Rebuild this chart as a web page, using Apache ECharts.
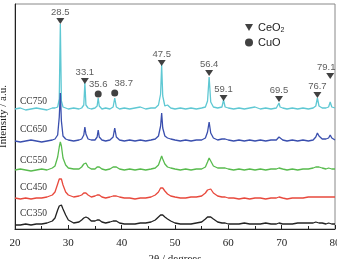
<!DOCTYPE html>
<html>
<head>
<meta charset="utf-8">
<script src="https://cdn.jsdelivr.net/npm/echarts@6/dist/echarts.min.js"></script>
<style>
  html, body { margin: 0; padding: 0; background: #fff; }
  #chart { width: 337px; height: 259px; }
</style>
</head>
<body>
<div id="chart"></div>
<script>
// 2θ grid shared by all patterns (denser around the reflections)
const twoTheta = [
  20, 21, 22, 23, 24, 25, 26, 27, 27.5, 28, 28.3, 28.5, 28.7, 29, 29.5, 30,
  31, 32, 32.5, 32.9, 33.1, 33.3, 33.7, 34.3, 35, 35.4, 35.6, 35.8, 36.3, 37,
  37.8, 38.4, 38.7, 39, 39.6, 40.5, 41.5, 42.5, 43.5, 44.5, 45.5, 46.3, 46.9,
  47.3, 47.5, 47.7, 48.1, 48.6, 49.2, 50, 51, 52, 53, 54, 55, 55.7, 56.1, 56.4,
  56.7, 57.2, 58, 58.8, 59.1, 59.4, 60, 61, 62, 63, 64, 65, 66, 67, 68, 69,
  69.3, 69.5, 69.7, 70.2, 71, 72, 73, 74, 75, 75.9, 76.4, 76.7, 77, 77.6, 78.3,
  78.8, 79.1, 79.4, 80
]

// intensities (a.u., offset traces)
const cc750 = [
  120, 121, 119, 120, 121, 120, 119, 121, 121, 122, 130, 205, 128, 122, 121, 120,
  121, 120, 121, 124, 146, 124, 121, 120, 121, 123, 131, 123, 120, 121,
  120, 122, 131, 122, 120, 121, 120, 121, 122, 120, 121, 121, 124,
  135, 164, 133, 123, 124, 121, 120, 121, 120, 121, 120, 121, 122, 128, 152,
  127, 122, 121, 122, 129, 122, 121, 120, 121, 120, 121, 122, 120, 121, 120, 121,
  122, 126, 122, 121, 120, 121, 120, 121, 120, 121, 123, 131, 123, 121, 121,
  122, 127, 122, 121
]
const cc650 = [
  88, 87, 88, 89, 88, 87, 88, 89, 90, 94, 112, 136, 108, 93, 90, 89,
  88, 89, 90, 94, 102, 95, 90, 89, 89, 92, 99, 92, 89, 88,
  89, 92, 101, 92, 89, 88, 89, 88, 89, 88, 89, 90, 93,
  103, 116, 101, 93, 91, 90, 89, 88, 89, 88, 89, 89, 91, 97, 107,
  96, 91, 89, 90, 92, 90, 89, 88, 89, 88, 89, 88, 89, 88, 89, 89,
  90, 92, 90, 89, 88, 89, 88, 89, 88, 89, 92, 96, 93, 90, 90,
  91, 94, 91, 89
]
const cc550 = [
  59, 60, 59, 58, 59, 60, 59, 61, 63, 72, 82, 87, 83, 71, 64, 61,
  60, 60, 62, 65, 67, 66, 62, 60, 60, 62, 64, 62, 60, 59,
  60, 62, 63, 62, 60, 59, 60, 59, 60, 59, 60, 61, 64,
  70, 73, 70, 65, 62, 61, 60, 59, 60, 59, 60, 60, 62, 67, 71,
  68, 63, 61, 61, 61, 61, 60, 59, 60, 59, 60, 59, 60, 59, 60, 60,
  61, 61, 61, 60, 59, 60, 59, 60, 60, 61, 62, 62, 62, 61, 60,
  61, 61, 60, 60
]
const cc450 = [
  31, 30, 31, 30, 31, 31, 32, 34, 37, 45, 50, 52, 50, 44, 37, 34,
  32, 33, 34, 36, 36, 36, 34, 32, 33, 34, 36, 34, 32, 31,
  32, 33, 33, 33, 32, 31, 31, 30, 31, 31, 32, 34, 37,
  41, 42, 41, 38, 35, 33, 32, 31, 31, 32, 32, 33, 36, 39, 41,
  40, 36, 33, 32, 32, 32, 31, 31, 30, 31, 30, 31, 31, 30, 31, 31,
  31, 32, 31, 31, 30, 31, 31, 31, 32, 32, 32, 33, 32, 32, 32,
  32, 32, 32, 32
]
const cc350 = [
  4, 4, 5, 4, 5, 5, 6, 8, 11, 19, 23, 25, 24, 20, 14, 9,
  6, 7, 9, 11, 12, 12, 11, 8, 8, 9, 10, 9, 7, 6,
  7, 8, 8, 8, 6, 5, 5, 5, 6, 6, 7, 9, 12,
  14, 14, 14, 12, 10, 8, 6, 5, 5, 5, 6, 7, 10, 12, 12,
  12, 10, 7, 6, 6, 6, 5, 5, 5, 6, 5, 5, 5, 6, 5, 5,
  6, 6, 5, 5, 5, 5, 6, 6, 6, 6, 7, 7, 6, 6, 5,
  6, 6, 5, 5
]

const sampleNames = ['CC750', 'CC650', 'CC550', 'CC450', 'CC350']
const sampleColors = ['#5fc8d3', '#3a4fae', '#58bb4e', '#e8493d', '#222222']
const sampleData = [cc750, cc650, cc550, cc450, cc350]
const sampleLabelTop = [96, 124, 155, 182, 208]

// reflection markers
const ceo2Peaks = [28.5, 33.1, 47.5, 56.4, 59.1, 69.5, 76.7, 79.1]
const ceo2MarkY = [208, 148, 166, 156, 131, 130, 134, 153]
const cuoPeaks = [35.6, 38.7]
const cuoMarkY = [135, 136]

const xTicks = [20, 30, 40, 50, 60, 70, 80]

const chart = echarts.init(document.getElementById('chart'))

const serif = '"Liberation Serif", "DejaVu Serif", serif'
const sans = '"Liberation Sans", Arial, sans-serif'

const lineSeries = sampleNames.map((name, k) => ({
  name: name,
  type: 'line',
  symbol: 'none',
  animation: false,
  lineStyle: { color: sampleColors[k], width: 1.3 },
  data: twoTheta.map((t, i) => [t, sampleData[k][i]]),
  z: 2
}))

const peakLabel = {
  show: true, position: 'top', distance: 1,
  fontFamily: sans, fontSize: 9.5, color: '#333',
  formatter: p => p.value[0].toFixed(1)
}

const option = {
  animation: false,
  grid: {
    left: 15, right: 2, top: 4, bottom: 30,
    outerBoundsMode: 'none',
    containLabel: false,
    show: true, borderColor: '#888', borderWidth: 1
  },
  legend: {
    data: [
      { name: 'CeO2', icon: 'path://M0,0L10,0L5,9Z' },
      { name: 'CuO', icon: 'circle' }
    ],
    orient: 'vertical',
    left: 240,
    top: 17,
    itemWidth: 8,
    itemHeight: 8,
    itemGap: 3,
    formatter: name => name === 'CeO2' ? 'CeO{s|2}' : name,
    textStyle: {
      fontFamily: sans, fontSize: 11, color: '#222',
      rich: { s: { fontSize: 7, fontFamily: sans, padding: [6, 0, 0, 0] } }
    }
  },
  xAxis: {
    type: 'value',
    min: 20, max: 80, interval: 10,
    name: '2θ / degrees',
    nameLocation: 'middle',
    nameGap: 22,
    nameTextStyle: { fontFamily: serif, fontSize: 11, color: '#222' },
    axisLine: { lineStyle: { color: '#222', width: 1 } },
    axisTick: { inside: true, length: 4, lineStyle: { color: '#222' } },
    minorTick: { show: true, splitNumber: 2, length: 3, lineStyle: { color: '#222' } },
    axisLabel: {
      fontFamily: serif, fontSize: 11, color: '#222', margin: 9,
      formatter: v => xTicks.includes(v) ? String(v) : ''
    },
    splitLine: { show: false }
  },
  yAxis: {
    type: 'value',
    min: 0, max: 225,
    name: 'Intensity / a.u.',
    nameLocation: 'middle',
    nameGap: 6,
    nameTextStyle: { fontFamily: serif, fontSize: 11, color: '#222' },
    axisLine: { show: true, lineStyle: { color: '#222', width: 1 } },
    axisTick: { show: false },
    axisLabel: { show: false },
    splitLine: { show: false }
  },
  graphic: sampleNames.map((name, k) => ({
    type: 'text',
    left: 20,
    top: sampleLabelTop[k],
    style: { text: name, fontFamily: serif, fontSize: 9.5, fill: '#333' },
    z: 10
  })),
  series: lineSeries.concat([
    {
      name: 'CeO2',
      type: 'scatter',
      symbol: 'path://M0,0L10,0L5,9Z',
      symbolSize: [8, 6],
      itemStyle: { color: '#111' },
      data: ceo2Peaks.map((p, i) => ({
        value: [p, ceo2MarkY[i]],
        label: i === ceo2Peaks.length - 1 ? { offset: [-4, 0] } : {}
      })),
      label: peakLabel,
      z: 5
    },
    {
      name: 'CuO',
      type: 'scatter',
      symbol: 'circle',
      symbolSize: 7,
      itemStyle: { color: '#111' },
      data: cuoPeaks.map((p, i) => ({
        value: [p, cuoMarkY[i]],
        label: i === 1 ? { offset: [9, 0] } : {}
      })),
      label: peakLabel,
      z: 5
    }
  ])
}

chart.setOption(option)
</script>
</body>
</html>
